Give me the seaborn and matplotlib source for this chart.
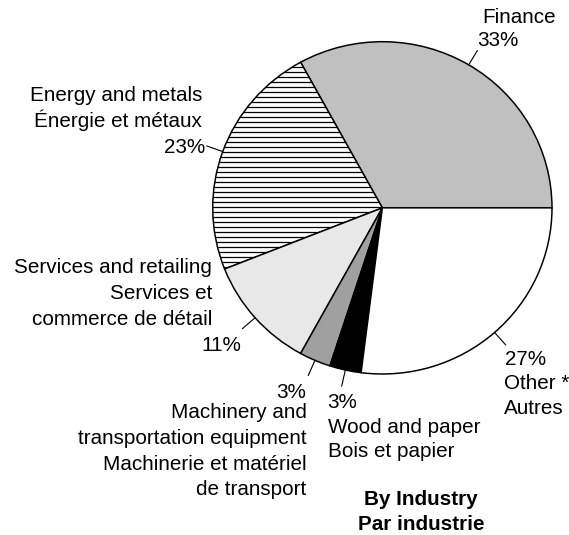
import matplotlib
matplotlib.use("Agg")
import matplotlib.pyplot as plt
import seaborn as sns
import numpy as np

# ---- data ----
categories_en = ["Finance", "Energy and metals", "Services and retailing",
                 "Machinery and\ntransportation equipment", "Wood and paper", "Other *"]
categories_fr = ["", "Énergie et métaux", "Services et\ncommerce de détail",
                 "Machinerie et matériel\nde transport", "Bois et papier", "Autres"]
values = [33, 23, 11, 3, 3, 27]
title_lines = ["By Industry", "Par industrie"]

# ---- style ----
colors = ["#c0c0c0", "#ffffff", "#e8e8e8", "#a0a0a0", "#000000", "#ffffff"]
hatches = [None, "---", None, None, None, None]

sns.set_theme(style="white")
plt.rcParams["font.family"] = ["Liberation Sans", "DejaVu Sans"]
plt.rcParams["hatch.linewidth"] = 1.0
plt.rcParams["hatch.color"] = "black"

W, H, DPI = 569, 535, 90
fig = plt.figure(figsize=(W / DPI, H / DPI), dpi=DPI)
fig.patch.set_facecolor("white")

# pie bounding box in pixels (left, top, right, bottom)
pl, pt, pr, pb = 212.7, 41.7, 552.0, 374.0
ax = fig.add_axes([pl / W, 1 - pb / H, (pr - pl) / W, (pb - pt) / H])
wedges, _ = ax.pie(values, colors=colors, startangle=0, counterclock=True,
                   wedgeprops=dict(edgecolor="black", linewidth=1.2))
ax.set_aspect("auto")
ax.set_xlim(-1, 1)
ax.set_ylim(-1, 1)
ax.axis("off")
for w, h in zip(wedges, hatches):
    w.set_clip_on(False)
    if h:
        w.set_hatch(h)

# leader lines at the wedge mid-angles
for w in wedges:
    mid = np.deg2rad((w.theta1 + w.theta2) / 2)
    ax.plot([np.cos(mid), 1.1 * np.cos(mid)], [np.sin(mid), 1.1 * np.sin(mid)],
            color="black", lw=0.9, clip_on=False)

# ---- labels ----
pct = [f"{v}%" for v in values]

def lines_of(i):
    out = categories_en[i].split("\n")
    if categories_fr[i]:
        out += categories_fr[i].split("\n")
    return out

label_lines = [
    lines_of(0) + [pct[0]],
    lines_of(1) + [pct[1]],
    lines_of(2) + [pct[2]],
    [pct[3]] + lines_of(3),
    [pct[4]] + lines_of(4),
    [pct[5]] + lines_of(5),
]
# layout: (x positions, baselines, alignment) in pixels
layout = [
    ([482, 477], [22.7, 46], "left"),
    ([202, 202, 205], [101, 127, 153], "right"),
    ([212, 212, 212, 241], [273, 299, 325, 351], "right"),
    ([306.5] * 5, [398, 418, 444, 469.5, 495], "right"),
    ([327, 328, 328], [408, 433, 457], "left"),
    ([505, 504, 504], [365, 389, 414], "left"),
]
FS = 16.5
for lines, (xs, ys, ha) in zip(label_lines, layout):
    for t, x, y in zip(lines, xs, ys):
        fig.text(x / W, 1 - y / H, t, ha=ha, va="baseline", fontsize=FS, color="black")

for t, y in zip(title_lines, [505, 530]):
    fig.text(421 / W, 1 - y / H, t, ha="center", va="baseline", fontsize=FS,
             fontweight="bold", color="black")

fig.savefig("out.png", dpi=DPI, facecolor="white")
